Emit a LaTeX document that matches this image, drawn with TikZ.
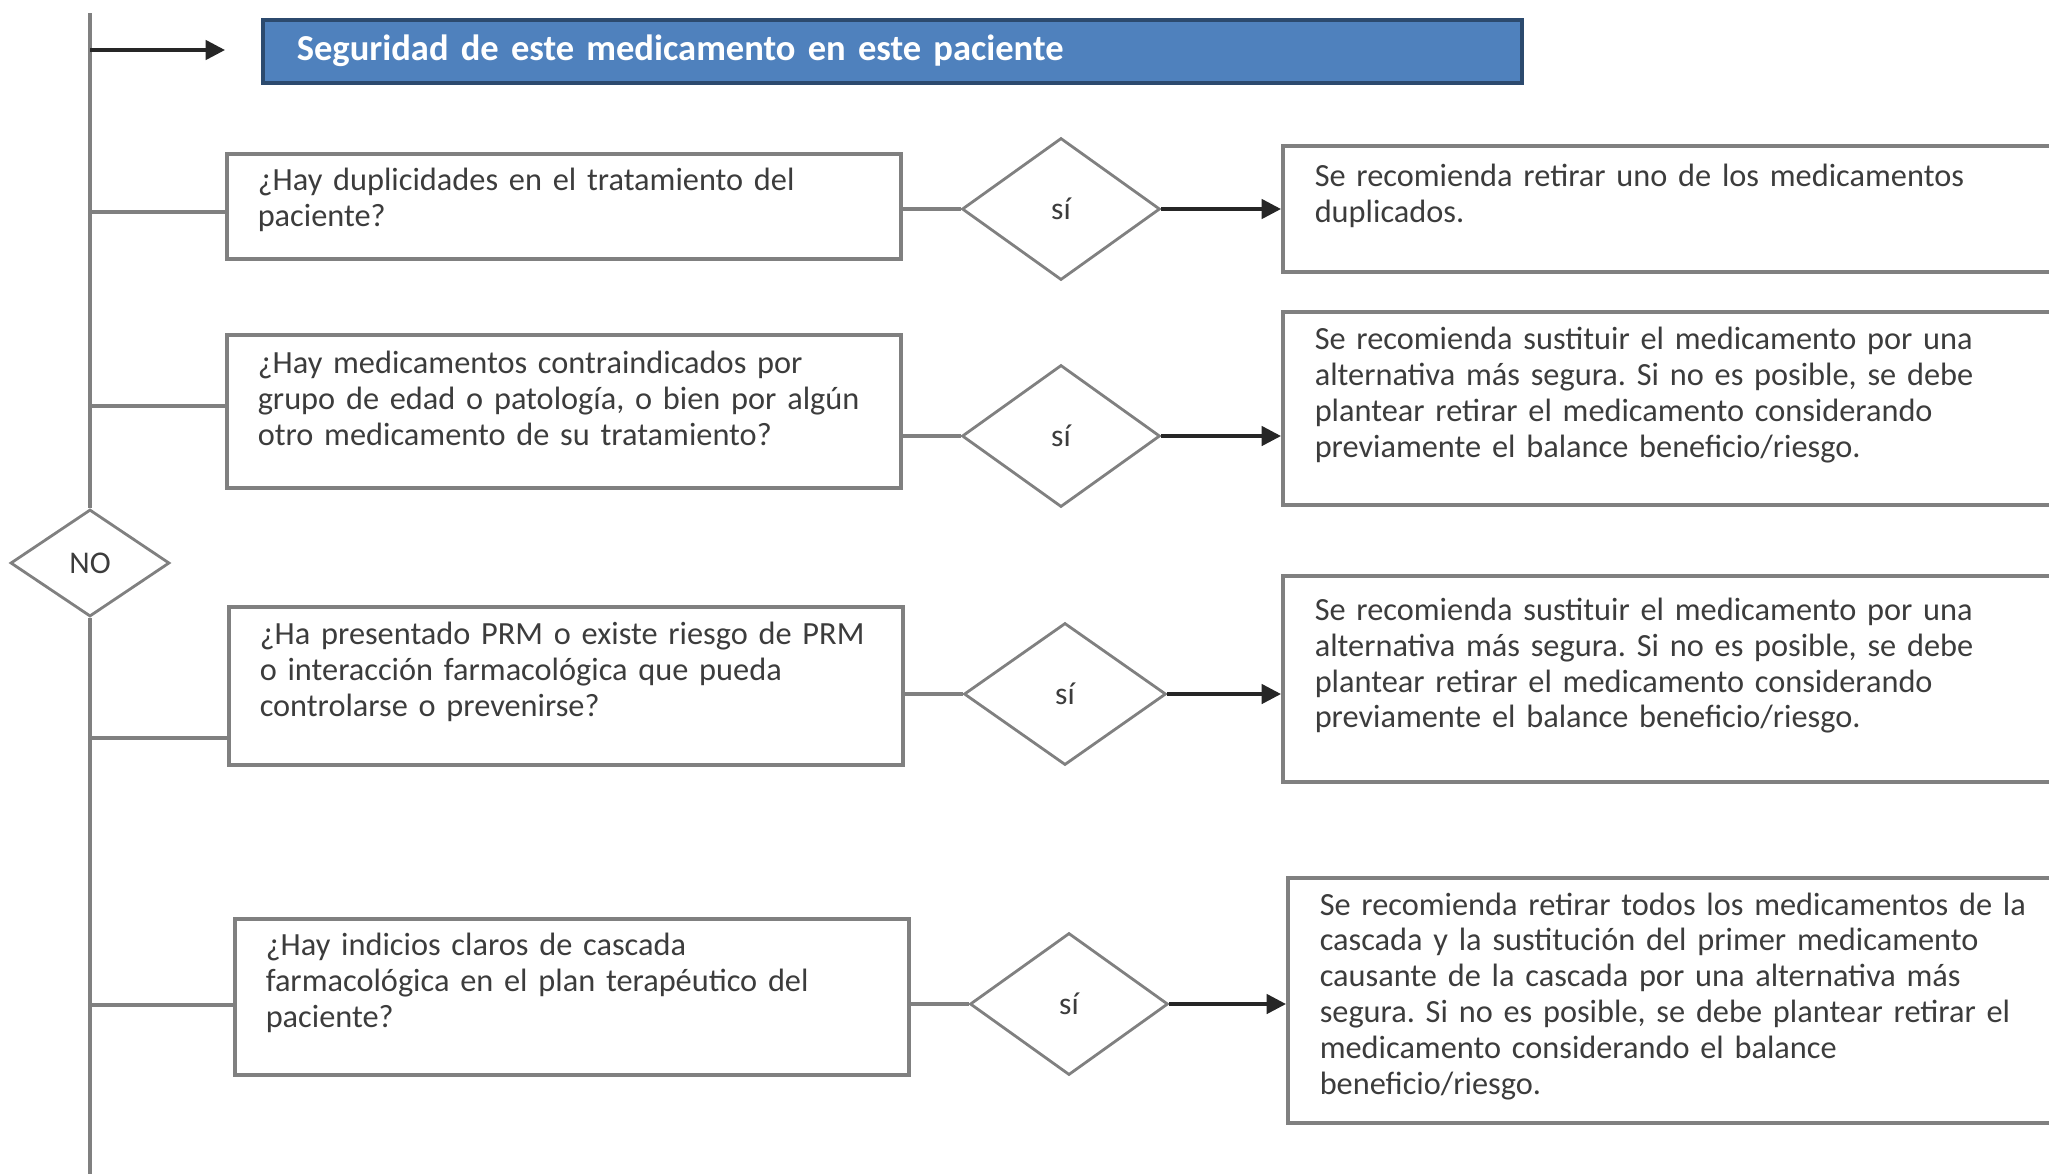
\documentclass[tikz,border=0pt]{standalone}
\usepackage{fontspec}
\setmainfont{Carlito}
\frenchspacing
\usetikzlibrary{shapes.geometric,arrows.meta}

\definecolor{azultitulo}{HTML}{4F81BD}
\definecolor{bordeazul}{HTML}{2C4A6E}
\definecolor{gristexto}{HTML}{3C3C3C}
\definecolor{grislinea}{HTML}{808080}

\tikzset{
	pregunta/.style={draw=grislinea, line width=1pt, anchor=north west, align=left,
		inner xsep=0.31cm, inner ysep=0.05cm, text width=6.12cm, text=gristexto,
		font=\fontsize{9.2}{10.2}\selectfont},
	respuesta/.style={draw=grislinea, line width=1pt, anchor=north west, align=left,
		inner xsep=0.32cm, inner ysep=0.05cm, text width=7.4cm, text=gristexto,
		font=\fontsize{9.2}{10.2}\selectfont},
	subir/.style={execute at end node={\par\vspace*{#1}}},
	decision/.style={diamond, draw=grislinea, line width=0.8pt, inner sep=0pt,
		minimum width=1.98cm, minimum height=1.42cm, text=gristexto,
		font=\fontsize{9}{10}\selectfont},
	linea/.style={draw=grislinea, line width=1pt},
	flecha/.style={draw=black!85, line width=1pt, -{Triangle[length=5.5pt,width=5.5pt]}}
}

\begin{document}
\begin{tikzpicture}
			%%%%% START %%%%%
			
			\useasboundingbox (0,0) rectangle (20.49,-11.74);
			\clip (0,0) rectangle (20.49,-11.74);
			
			% cabecera
			\node[draw=bordeazul, line width=1pt, fill=azultitulo, anchor=north west, align=left,
				inner xsep=0.34cm, text width=11.91cm, minimum height=0.63cm, text=white,
				font=\fontsize{10.4}{12}\selectfont\bfseries] (titulo) at (2.61,-0.18)
				{Seguridad de este medicamento en este paciente};
			
			% preguntas
			\node[pregunta, subir=0.13cm, minimum height=1.05cm] (q1) at (2.25,-1.52)
				{¿Hay duplicidades en el tratamiento del\\paciente?};
			\node[pregunta, subir=0.26cm, minimum height=1.53cm] (q2) at (2.25,-3.33)
				{¿Hay medicamentos contraindicados por\\grupo de edad o patología, o bien por algún\\otro medicamento de su tratamiento?};
			\node[pregunta, subir=0.28cm, minimum height=1.58cm] (q3) at (2.27,-6.05)
				{¿Ha presentado PRM o existe riesgo de PRM\\o interacción farmacológica que pueda\\controlarse o prevenirse?};
			\node[pregunta, subir=0.28cm, minimum height=1.56cm] (q4) at (2.33,-9.17)
				{¿Hay indicios claros de cascada\\farmacológica en el plan terapéutico del\\paciente?};
			
			% rombos
			\node[decision] (d1) at (10.61,-2.09) {sí};
			\node[decision] (d2) at (10.61,-4.36) {sí};
			\node[decision, minimum width=2.02cm] (d3) at (10.65,-6.94) {sí};
			\node[decision] (d4) at (10.69,-10.04) {sí};
			\node[decision, minimum width=1.59cm, minimum height=1.07cm] (no) at (0.90,-5.63) {NO};
			
			% recomendaciones
			\node[respuesta, subir=0.26cm, minimum height=1.26cm] (r1) at (12.81,-1.44)
				{Se recomienda retirar uno de los medicamentos\\duplicados.};
			\node[respuesta, subir=0.26cm, minimum height=1.93cm] (r2) at (12.81,-3.10)
				{Se recomienda sustituir el medicamento por una\\alternativa más segura. Si no es posible, se debe\\plantear retirar el medicamento considerando\\previamente el balance beneficio/riesgo.};
			\node[respuesta, subir=0.26cm, minimum height=2.06cm] (r3) at (12.81,-5.74)
				{Se recomienda sustituir el medicamento por una\\alternativa más segura. Si no es posible, se debe\\plantear retirar el medicamento considerando\\previamente el balance beneficio/riesgo.};
			\node[respuesta, subir=0.08cm, minimum height=2.45cm] (r4) at (12.86,-8.76)
				{Se recomienda retirar todos los medicamentos de la\\cascada y la sustitución del primer medicamento\\causante de la cascada por una alternativa más\\segura. Si no es posible, se debe plantear retirar el\\medicamento considerando el balance\\beneficio/riesgo.};
			
			% tronco
			\coordinate (arriba) at (0.90,-0.13);
			\coordinate (abajo) at (0.90,-11.74);
			\coordinate (b0) at (0.90,-0.50);
			\coordinate (b1) at (0.90,-2.12);
			\coordinate (b2) at (0.90,-4.06);
			\coordinate (b3) at (0.90,-7.38);
			\coordinate (b4) at (0.90,-10.05);
			
			\draw[linea] (arriba) -- (no.north);
			\draw[linea] (no.south) -- (abajo);
			\draw[flecha, shorten >=0.36cm] (b0) -- (b0 -| titulo.west);
			
			\draw[linea] (b1) -- (b1 -| q1.west);
			\draw[linea] (b2) -- (b2 -| q2.west);
			\draw[linea] (b3) -- (b3 -| q3.west);
			\draw[linea] (b4) -- (b4 -| q4.west);
			
			\draw[linea] (d1.west -| q1.east) -- (d1.west);
			\draw[linea] (d2.west -| q2.east) -- (d2.west);
			\draw[linea] (d3.west -| q3.east) -- (d3.west);
			\draw[linea] (d4.west -| q4.east) -- (d4.west);
			
			\draw[flecha] (d1.east) -- (d1.east -| r1.west);
			\draw[flecha] (d2.east) -- (d2.east -| r2.west);
			\draw[flecha] (d3.east) -- (d3.east -| r3.west);
			\draw[flecha] (d4.east) -- (d4.east -| r4.west);
			
			%%%%% END %%%%%
		\end{tikzpicture}
\end{document}
